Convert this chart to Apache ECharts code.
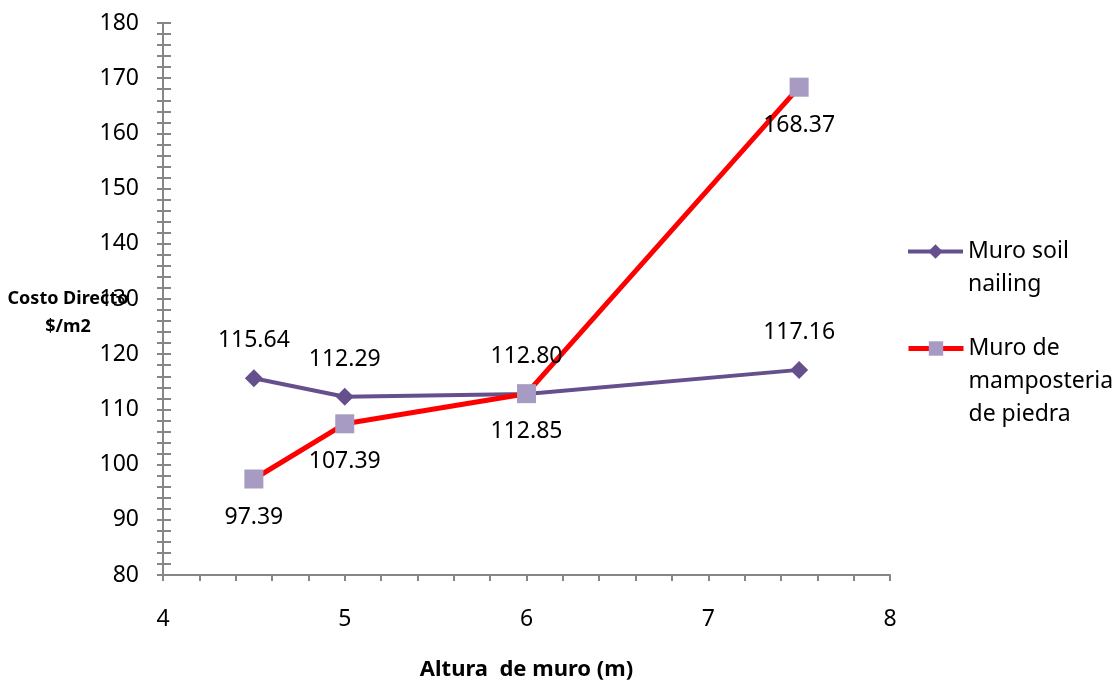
<!DOCTYPE html>
<html><head><meta charset="utf-8">
<script src="https://cdn.jsdelivr.net/npm/echarts@6/dist/echarts.min.js"></script>
<style>html,body{margin:0;padding:0;background:#fff}#c{width:1119px;height:683px}</style>
</head><body><div id="c"></div>
<script>
const alturas = [4.5, 5, 6, 7.5];
const soilNailing = [115.64, 112.29, 112.80, 117.16];
const mamposteria = [97.39, 107.39, 112.85, 168.37];
const seriesNames = ['Muro soil nailing', 'Muro de mamposteria de piedra'];
const legendLabels = ['Muro soil\nnailing', 'Muro de\nmamposteria\nde piedra'];
const xAxisTitle = 'Altura  de muro (m)';
const yAxisTitle = 'Costo Directo\n$/m2';

const FONT = 'Noto Sans';
const AXIS_COLOR = '#868686';
const pairs = vals => vals.map((v, i) => [alturas[i], v]);
const fmt = p => p.value[1].toFixed(2);
const lineWidths = [4, 5];

const baseY = {
  type: 'value', min: 80, max: 180, interval: 10, position: 'left',
  splitLine: { show: false },
  axisLine: { show: true, lineStyle: { color: AXIS_COLOR, width: 2 } }
};

const chart = echarts.init(document.getElementById('c'));
chart.setOption({
  animation: false,
  backgroundColor: '#fff',
  textStyle: { fontFamily: FONT },
  grid: { left: 163, right: 229, top: 23, bottom: 108, containLabel: false, outerBoundsMode: 'none' },
  xAxis: {
    type: 'value', min: 4, max: 8, interval: 1,
    name: xAxisTitle, nameLocation: 'middle', nameGap: 84, nameMoveOverlap: false,
    nameTextStyle: { fontFamily: FONT, fontWeight: 'bold', fontSize: 22, color: '#000' },
    splitLine: { show: false },
    axisLine: { show: true, onZero: false, lineStyle: { color: AXIS_COLOR, width: 2 } },
    axisTick: { show: true, length: 6, lineStyle: { color: AXIS_COLOR, width: 2 } },
    minorTick: { show: true, splitNumber: 5, length: 6, lineStyle: { color: AXIS_COLOR, width: 2 } },
    axisLabel: { fontFamily: FONT, fontSize: 23, color: '#000', margin: 33 }
  },
  yAxis: [
    Object.assign({}, baseY, {
      name: '\n' + yAxisTitle, nameLocation: 'middle', nameRotate: 0, nameGap: 95, nameMoveOverlap: false,
      nameTextStyle: { fontFamily: FONT, fontWeight: 'bold', fontSize: 18, color: '#000',
        align: 'center', lineHeight: 28 },
      axisTick: { show: true, length: 6, lineStyle: { color: AXIS_COLOR, width: 2 } },
      minorTick: { show: true, splitNumber: 5, length: 6, lineStyle: { color: AXIS_COLOR, width: 2 } },
      axisLabel: { fontFamily: FONT, fontSize: 23, color: '#000', margin: 24 }
    }),
    Object.assign({}, baseY, {
      offset: 0,
      axisTick: { show: true, inside: true, length: 8, lineStyle: { color: AXIS_COLOR, width: 2 } },
      minorTick: { show: true, splitNumber: 5, length: 8, lineStyle: { color: AXIS_COLOR, width: 2 } },
      axisLabel: { show: false }
    })
  ],
  legend: [0, 1].map(i => ({
    data: [seriesNames[i]],
    orient: 'vertical',
    left: 901,
    top: i === 0 ? 197 : 261,
    itemWidth: 55, itemHeight: 18,
    lineStyle: { width: lineWidths[i] },
    formatter: () => '\n'.repeat(legendLabels[i].split('\n').length - 1) + legendLabels[i],
    textStyle: { fontFamily: FONT, fontSize: 23, lineHeight: 33, color: '#000' }
  })),
  series: [
    {
      name: seriesNames[0], type: 'line', yAxisIndex: 0,
      data: pairs(soilNailing),
      symbol: 'diamond', symbolSize: 18,
      lineStyle: { color: '#654F8C', width: lineWidths[0] },
      itemStyle: { color: '#654F8C' },
      label: { show: true, position: 'top', distance: 17, formatter: fmt,
        fontFamily: FONT, fontSize: 23, color: '#000' }
    },
    {
      name: seriesNames[1], type: 'line', yAxisIndex: 0,
      data: pairs(mamposteria),
      symbol: 'rect', symbolSize: 19,
      lineStyle: { color: '#FF0000', width: lineWidths[1] },
      itemStyle: { color: '#A79BC3' },
      label: { show: true, position: 'bottom', distance: 17, formatter: fmt,
        fontFamily: FONT, fontSize: 23, color: '#000' }
    }
  ]
});
</script>
</body></html>
